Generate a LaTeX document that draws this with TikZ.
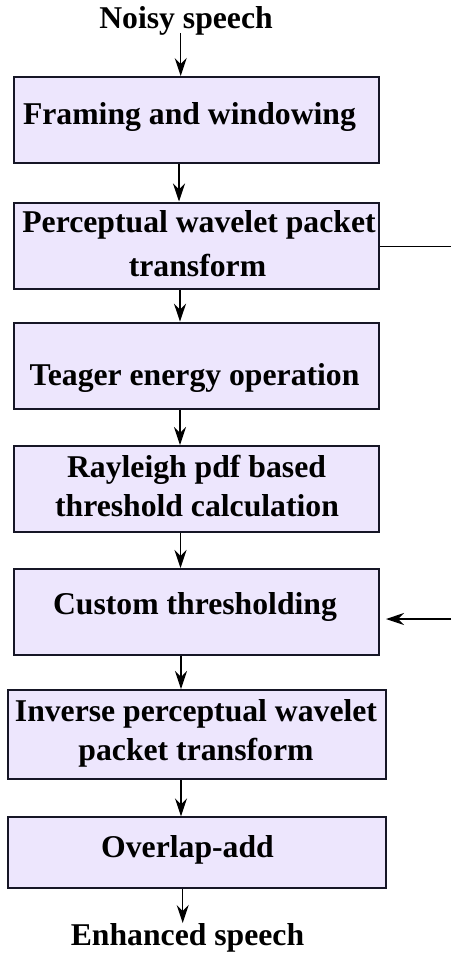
\documentclass[tikz,border=0pt]{standalone}
\usepackage{fontspec}
\setmainfont{Liberation Serif}
\usetikzlibrary{arrows.meta,calc}
\definecolor{boxfill}{RGB}{237,230,253}
\definecolor{boxline}{RGB}{22,22,38}
\begin{document}
\begin{tikzpicture}[x=1pt,y=-1pt,
  box/.style={draw=boxline,line width=2pt,fill=boxfill,inner sep=0pt,minimum width=365pt,minimum height=86pt},
  lbl/.style={anchor=base,inner sep=0pt,font=\bfseries\fontsize{31.7}{38}\selectfont},
  conn/.style={line width=1.3pt,-{Stealth[length=18pt,width=12pt,inset=6pt]}},
  plain/.style={line width=1.3pt}]
\useasboundingbox (0,0) rectangle (451,954);
% boxes
\node[box] (b1) at (196.5,120) {};
\node[box] (b2) at (196.5,245.5) {};
\node[box] (b3) at (196.5,365.7) {};
\node[box] (b4) at (196.5,489) {};
\node[box] (b5) at (196.5,612) {};
\node[box,minimum width=377.7pt,minimum height=89pt] (b6) at (197.2,734.5) {};
\node[box,minimum width=377.7pt,minimum height=70.4pt] (b7) at (197.2,852.5) {};
% texts
\node[lbl] (t0) at (186,28) {Noisy speech};
\node[lbl] (t1) at (189.5,124) {Framing and windowing};
\node[lbl] (t2a) at (199,232.7) {Perceptual wavelet packet};
\node[lbl] (t2b) at (197.5,276) {transform};
\node[lbl] (t3) at (194.5,385) {Teager energy operation};
\node[lbl] (t4a) at (196.5,477.3) {Rayleigh pdf based};
\node[lbl] (t4b) at (197,516.7) {threshold calculation};
\node[lbl] (t5) at (195,614.3) {Custom thresholding};
\node[lbl] (t6a) at (196,721.7) {Inverse perceptual wavelet};
\node[lbl] (t6b) at (196,760) {packet transform};
\node[lbl] (t7) at (187.5,857.3) {Overlap-add};
\node[lbl] (t8) at (187.5,945) {Enhanced speech};
% connectors
\draw[conn] ($(t0.base)+(-5.3,5)$) -- ($(b1.north)+(-15.8,0)$);
\draw[conn] ($(b1.south)+(-17.5,0)$) -- ($(b2.north)+(-17.5,0)$);
\draw[conn] ($(b2.south)+(-16.5,0)$) -- ($(b3.north)+(-16.5,0)$);
\draw[conn] ($(b3.south)+(-16.5,0)$) -- ($(b4.north)+(-16.5,0)$);
\draw[conn] ($(b4.south)+(-16,0)$) -- ($(b5.north)+(-16,0)$);
\draw[conn] ($(b5.south)+(-15.5,0)$) -- ($(b6.north)+(-16.2,0)$);
\draw[conn] ($(b6.south)+(-16.2,0)$) -- ($(b7.north)+(-16.2,0)$);
\draw[conn] ($(b7.south)+(-14.5,0)$) -- ($(t8.base)+(-4.8,-22)$);
\coordinate (r2) at (451,246.7);
\coordinate (r5) at (451,619);
\draw[plain] ($(b2.east)+(0,1.2)$) -- (r2);
\draw[conn] (r5) -- ($(b5.east)+(6,7)$);
\end{tikzpicture}
\end{document}
